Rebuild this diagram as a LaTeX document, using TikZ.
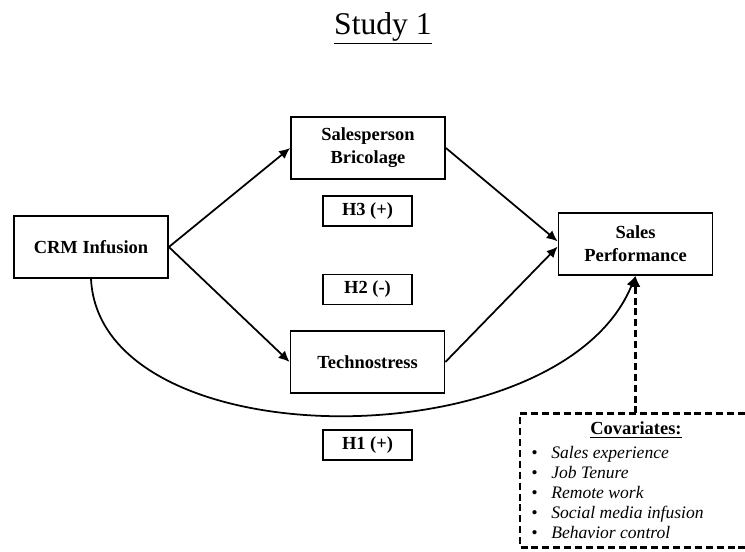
\documentclass[tikz,border=0pt]{standalone}
\usepackage{fontspec}
\setmainfont{Liberation Serif}
\usetikzlibrary{arrows.meta}

\tikzset{
  varbox/.style={draw, line width=1pt, minimum width=3.08cm, minimum height=1.24cm,
    align=center, font=\fontsize{10.5}{13}\selectfont\bfseries},
  hypbox/.style={draw, line width=1pt, minimum width=1.78cm, minimum height=0.6cm,
    font=\fontsize{10.5}{13}\selectfont\bfseries},
  link/.style={-{Latex[length=2.2mm,width=2mm]}, line width=1pt},
  covline/.style={line width=1.2pt, dash pattern=on 4pt off 2.2pt},
}

\begin{document}
\begin{tikzpicture}
    \useasboundingbox (0,0) rectangle (14.9,11.04);

    % Title
    \node[font=\fontsize{18}{22}\selectfont] (title) at (7.66,10.47) {\underline{Study 1}};

    % Constructs
    \node[varbox] (crm) at (1.82,6.1) {CRM Infusion};
    \node[varbox] (sb) at (7.36,8.08) {Salesperson\\Bricolage};
    \node[varbox] (tech) at (7.35,3.8) {Technostress};
    \node[varbox] (sp) at (12.71,6.16) {Sales\\Performance};

    % Hypotheses
    \node[hypbox] (h3) at (7.35,6.82) {H3 (+)};
    \node[hypbox] (h2) at (7.35,5.25) {H2 (-)};
    \node[hypbox] (h1) at (7.35,2.14) {H1 (+)};

    % Paths
    \draw[link] (crm.east) -- (sb.west);
    \draw[link] (crm.east) -- (tech.west);
    \draw[link] (sb.east) -- ([yshift=1.5pt]sp.west);
    \draw[link] (tech.east) -- ([yshift=-1.5pt]sp.west);
    \draw[link] (crm.south) .. controls (2.0,1.82) and (11.2,1.82) .. (sp.south);

    % Covariates
    \coordinate (covtop) at (sp.south |- 0,2.77);
    \draw[covline] (14.9,2.77) -- (10.4,2.77) -- (10.4,0.09) -- (14.9,0.09);
    \draw[link, covline] (covtop) -- (sp.south);
    \node[font=\fontsize{10.5}{13}\selectfont\bfseries] (covhead) at (12.72,2.44) {\underline{Covariates:}};
    \node[anchor=west, inner sep=0pt, align=left, font=\fontsize{10}{11.4}\selectfont\itshape] (covlist) at (10.62,1.19)
      {\makebox[0.4cm][l]{\textbullet}Sales experience\\
       \makebox[0.4cm][l]{\textbullet}Job Tenure\\
       \makebox[0.4cm][l]{\textbullet}Remote work\\
       \makebox[0.4cm][l]{\textbullet}Social media infusion\\
       \makebox[0.4cm][l]{\textbullet}Behavior control};
\end{tikzpicture}
\end{document}
